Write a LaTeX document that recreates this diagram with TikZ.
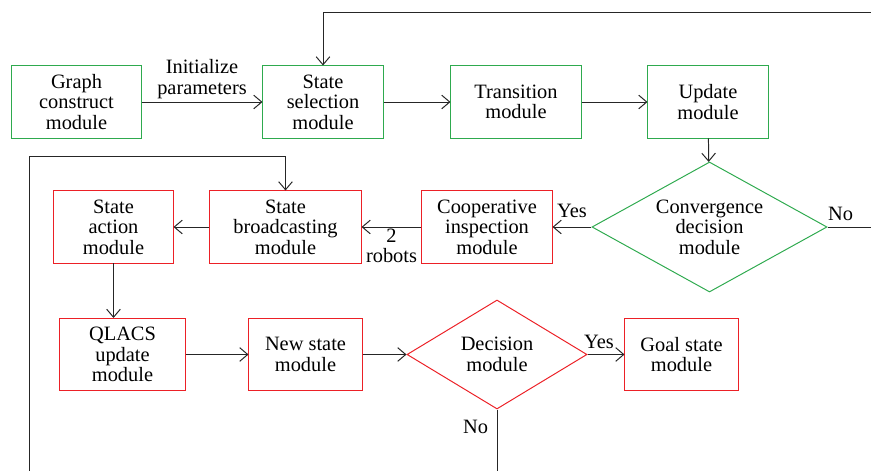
\documentclass[tikz,border=0pt]{standalone}
\usepackage{fontspec}
\setmainfont{Liberation Serif}
\usetikzlibrary{shapes.geometric}
\usetikzlibrary{arrows.meta}
\usepackage{xcolor}
\definecolor{modgreen}{RGB}{46,170,78}
\definecolor{modred}{RGB}{236,32,38}

\begin{document}
\begin{tikzpicture}[x=0.025cm,y=-0.025cm,
    font=\fontsize{14.5}{14.6}\selectfont,
    module/.style={draw,line width=0.7pt,align=center,inner sep=1pt,minimum height=1.8cm},
    greenmod/.style={module,draw=modgreen},
    redmod/.style={module,draw=modred},
    choice/.style={diamond,draw,line width=0.7pt,align=center,inner sep=0pt},
    flow/.style={draw=black!85,line width=0.7pt,-{Straight Barb[length=2mm,width=3.4mm]}},
    wire/.style={draw=black!85,line width=0.7pt}]
    \useasboundingbox (0,0) rectangle (871,471);
    % first row
    \node[greenmod,minimum width=3.225cm] (graph) at (76.5,102) {Graph\\construct\\module};
    \node[greenmod,minimum width=3cm] (select) at (323,102) {State\\selection\\module};
    \node[greenmod,minimum width=3.25cm] (trans) at (516,102) {Transition\\module};
    \node[greenmod,minimum width=3cm] (update) at (708,102) {Update\\module};
    % second row
    \node[choice,draw=modgreen,aspect=1.8,minimum width=5.875cm,minimum height=3.25cm]
        (conv) at (709.5,227) {Convergence\\decision\\module};
    \node[redmod,minimum width=3.25cm] (coop) at (487,227) {Cooperative\\inspection\\module};
    \node[redmod,minimum width=3.775cm] (bcast) at (285.5,227) {State\\broadcasting\\module};
    \node[redmod,minimum width=2.975cm] (action) at (113.5,227) {State\\action\\module};
    % third row
    \node[redmod,minimum width=3.125cm] (qlacs) at (122.5,354.5) {QLACS\\update\\module};
    \node[redmod,minimum width=2.825cm] (newstate) at (305.5,354.5) {New state\\module};
    \node[choice,draw=modred,aspect=1.65,minimum width=4.5cm,minimum height=2.725cm]
        (decide) at (497,354.5) {Decision\\module};
    \node[redmod,minimum width=2.825cm] (goal) at (681.5,354.5) {Goal state\\module};
    % loose ends at the border
    \coordinate (noend) at (871,227);
    \coordinate (topend) at (871,12);
    \coordinate (downend) at (497,471);
    \coordinate (leftend) at (29,471);

    \draw[flow] (graph) -- node[above,inner sep=2pt,align=center] {Initialize\\parameters} (select);
    \draw[flow] (select) -- (trans);
    \draw[flow] (trans) -- (update);
    \draw[flow] (update) -- (conv);
    \draw[flow] (conv) -- node[above,inner sep=6pt] {Yes} (coop);
    \draw[wire] (conv.east) -- node[above,pos=0.3,inner sep=4pt] {No} (noend);
    \draw[flow] (topend) -| (select);
    \draw[flow] (coop) -- node[below,align=center,inner sep=1pt] {2\\robots} (bcast);
    \draw[flow] (bcast) -- (action);
    \draw[flow] (action.south) -- (action.south |- qlacs.north);
    \draw[flow] (qlacs) -- (newstate);
    \draw[flow] (newstate) -- (decide);
    \draw[flow] (decide) -- node[above,inner sep=4pt,xshift=-5pt] {Yes} (goal);
    \draw[wire] (decide.south) -- node[left,pos=0.28,inner sep=6pt] {No} (downend);
    \draw[flow] (leftend) |- (29,156) -| (bcast.north);
\end{tikzpicture}
\end{document}
